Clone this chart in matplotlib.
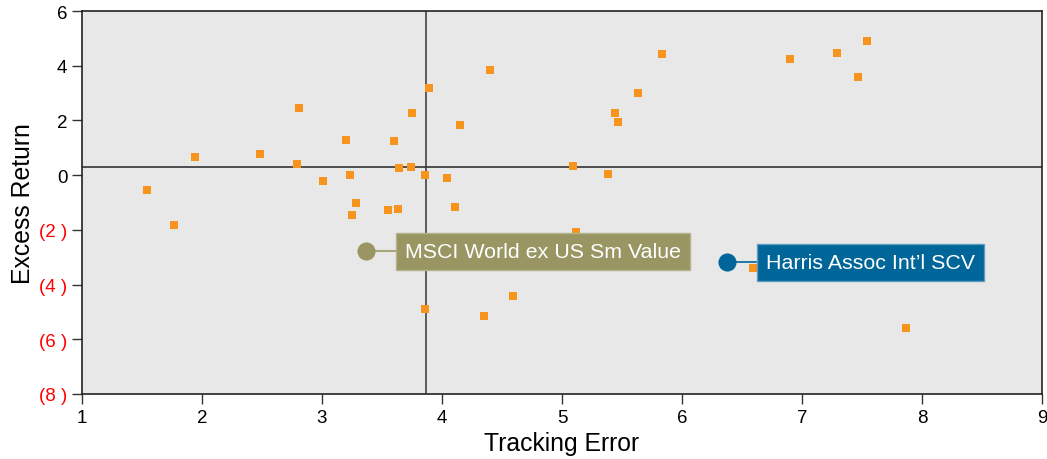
import numpy as np
import matplotlib.pyplot as plt

plt.rcParams['font.family'] = ['Liberation Sans', 'DejaVu Sans']

# peer universe (tracking error, excess return)
peer_te = [1.54, 1.77, 1.94, 2.48, 2.81, 2.79, 3.01, 3.20, 3.23, 3.28, 3.25,
           3.60, 3.75, 3.64, 3.74, 3.55, 3.63, 3.86, 3.89, 4.04, 4.15, 4.11,
           4.40, 3.86, 4.35, 4.59, 5.12, 5.83, 5.63, 5.44, 5.47, 5.09, 5.38,
           6.90, 7.29, 7.54, 7.47, 6.59, 7.87]
peer_er = [-0.56, -1.84, 0.65, 0.79, 2.44, 0.39, -0.23, 1.27, -0.01, -1.00, -1.47,
           1.23, 2.26, 0.25, 0.28, -1.29, -1.22, 0.02, 3.20, -0.12, 1.82, -1.18,
           3.83, -4.91, -5.16, -4.43, -2.08, 4.41, 2.99, 2.26, 1.96, 0.33, 0.03,
           4.23, 4.48, 4.89, 3.57, -3.41, -5.57]

bench_name = "MSCI World ex US Sm Value"
bench_pt = (3.37, -2.78)
fund_name = "Harris Assoc Int\u2019l SCV"
fund_pt = (6.375, -3.18)

median_te = 3.87
median_er = 0.28

xticks = [1, 2, 3, 4, 5, 6, 7, 8, 9]
yticks = [6, 4, 2, 0, -2, -4, -6, -8]
ytick_labels = ['6', '4', '2', '0', '(2 )', '(4 )', '(6 )', '(8 )']

fig = plt.figure(figsize=(10.47, 4.60), dpi=100)
ax = fig.add_axes([82/1047, 65/460, 960/1047, 383/460])
ax.set_facecolor('#e8e8e8')

ax.axvline(median_te, color='#444444', lw=1.2, zorder=1)
ax.axhline(median_er, color='#333333', lw=1.2, zorder=1)

ax.scatter(peer_te, peer_er, marker='s', s=36, color='#f7941d', lw=0, zorder=3)

# benchmark
ax.plot([bench_pt[0], 3.62], [bench_pt[1], bench_pt[1]], color='#a8a67a', lw=1.5, zorder=4)
ax.scatter([bench_pt[0]], [bench_pt[1]], s=170, color='#999663', lw=0, zorder=5)
ax.text(3.69, bench_pt[1], bench_name, color='white', fontsize=15.4, va='center', ha='left', zorder=6,
        bbox=dict(boxstyle='square,pad=0.42', fc='#999663', ec='#b5b38c', lw=1))

# fund
ax.plot([fund_pt[0], 6.62], [fund_pt[1], fund_pt[1]], color='#006699', lw=1.2, zorder=4)
ax.scatter([fund_pt[0]], [fund_pt[1]], s=170, color='#006699', lw=0, zorder=5)
ax.text(6.70, fund_pt[1], fund_name, color='white', fontsize=15.4, va='center', ha='left', zorder=6,
        bbox=dict(boxstyle='square,pad=0.42', fc='#006699', ec='#5b9cc0', lw=1))

ax.set_xlim(1, 9)
ax.set_ylim(-8, 6)
ax.set_xticks(xticks)
ax.set_yticks(yticks)
ax.set_yticklabels(ytick_labels)
for lab, v in zip(ax.get_yticklabels(), yticks):
    lab.set_color('red' if v < 0 else 'black')
ax.tick_params(labelsize=13.5, length=7, width=1, color='#333333', direction='out')
for sp in ax.spines.values():
    sp.set_color('#222222')
    sp.set_linewidth(1.2)

ax.set_xlabel('Tracking Error', fontsize=17.8, labelpad=4)
ax.set_ylabel('Excess Return', fontsize=17.8, labelpad=3)

fig.savefig('out.png', dpi=100)
